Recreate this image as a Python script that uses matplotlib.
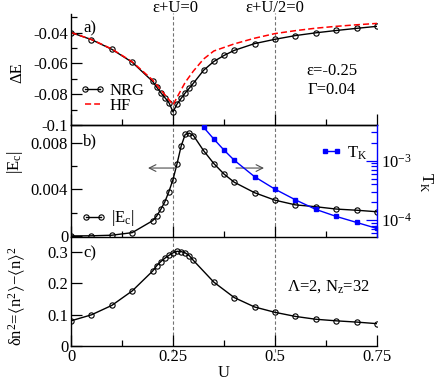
import matplotlib
matplotlib.use('Agg')
import matplotlib.pyplot as plt
from matplotlib.ticker import MultipleLocator, FuncFormatter, LogLocator, NullFormatter

plt.rcParams['font.family'] = ['Liberation Serif', 'DejaVu Sans']
plt.rcParams['mathtext.fontset'] = 'custom'
plt.rcParams['mathtext.rm'] = 'Liberation Serif'
plt.rcParams['mathtext.it'] = 'Liberation Serif:italic'
plt.rcParams['mathtext.fallback'] = 'stix'
plt.rcParams['axes.unicode_minus'] = False
plt.rcParams['font.size'] = 12

# ---------------- data ----------------
U_nrg = [0, 0.05, 0.1, 0.15, 0.2, 0.21, 0.22, 0.23, 0.24, 0.25, 0.26, 0.27, 0.28, 0.29, 0.3,
         0.325, 0.35, 0.375, 0.4, 0.45, 0.5, 0.55, 0.6, 0.65, 0.7, 0.75]
dE_nrg = [-0.0400, -0.0446, -0.0509, -0.0593, -0.0717, -0.0755, -0.0790, -0.0822, -0.0855, -0.0915,
          -0.0864, -0.0827, -0.0792, -0.0761, -0.0729, -0.0645, -0.0588, -0.0549, -0.0516, -0.0472,
          -0.0444, -0.0420, -0.0402, -0.0387, -0.0373, -0.0360]

U_hf = [0, 0.05, 0.1, 0.15, 0.2, 0.22, 0.24, 0.25, 0.26, 0.28, 0.3, 0.325, 0.35, 0.4, 0.45,
        0.5, 0.55, 0.6, 0.65, 0.7, 0.75]
dE_hf = [-0.0400, -0.0445, -0.0507, -0.0590, -0.0708, -0.0772, -0.0835, -0.0870, -0.0820, -0.0723,
         -0.0650, -0.0572, -0.0520, -0.0474, -0.0437, -0.0407, -0.0388, -0.0372, -0.0360, -0.0350,
         -0.0341]

U_ec = U_nrg
Ec = [0.0, 0.00001, 0.00006, 0.00028, 0.0013, 0.0017, 0.00227, 0.00292, 0.0038, 0.00483,
      0.0062, 0.0077, 0.0087, 0.0088, 0.0086, 0.0073, 0.0062, 0.0053, 0.0046, 0.0037,
      0.00306, 0.00266, 0.0025, 0.0023, 0.0022, 0.00207]

U_tk = [0.325, 0.35, 0.375, 0.4, 0.45, 0.5, 0.55, 0.6, 0.65, 0.7, 0.75]
TK = [3.66e-3, 2.32e-3, 1.51e-3, 1.02e-3, 5.37e-4, 3.31e-4, 2.19e-4, 1.51e-4, 1.15e-4,
      9.1e-5, 7.2e-5]

U_dn = [0, 0.05, 0.1, 0.15, 0.2, 0.21, 0.22, 0.23, 0.24, 0.25, 0.26, 0.27, 0.28, 0.29, 0.3,
        0.35, 0.4, 0.45, 0.5, 0.55, 0.6, 0.65, 0.7, 0.75]
dn2 = [0.080, 0.099, 0.129, 0.175, 0.238, 0.255, 0.268, 0.279, 0.288, 0.296, 0.301, 0.300,
       0.296, 0.287, 0.272, 0.203, 0.154, 0.124, 0.107, 0.094, 0.085, 0.080, 0.076, 0.071]

x_ticks_labels = ['0', '0.25', '0.5', '0.75']

# ---------------- figure ----------------
W, H = 436, 382
fig = plt.figure(figsize=(W / 100, H / 100), dpi=100)


def P(x, y):
    return x / W, 1 - y / H


L, AW = 71 / W, 306 / W
ax_a = fig.add_axes([L, 1 - 125 / H, AW, 111 / H])
ax_b = fig.add_axes([L, 1 - 236.5 / H, AW, 111.5 / H])
ax_c = fig.add_axes([L, 1 - 346 / H, AW, 109.5 / H])

fmt = FuncFormatter(lambda v, p: '%g' % round(v, 6))

for ax in (ax_a, ax_b, ax_c):
    ax.set_xlim(0, 0.75)
    ax.xaxis.set_major_locator(MultipleLocator(0.25))
    ax.xaxis.set_minor_locator(MultipleLocator(0.125))
    ax.tick_params(axis='both', which='both', direction='in', top=False, right=False,
                   width=0.9, pad=2)
    ax.tick_params(which='major', length=8)
    ax.tick_params(which='minor', length=4)
    ax.yaxis.set_major_formatter(fmt)
    ax.patch.set_alpha(0)
    for s in ax.spines.values():
        s.set_linewidth(1.0)
    ax.spines['right'].set_visible(False)

ax_a.spines['top'].set_visible(False)
ax_c.spines['top'].set_visible(False)
ax_a.tick_params(labelbottom=False)
ax_b.tick_params(labelbottom=False)
ax_c.xaxis.set_major_formatter(FuncFormatter(lambda v, p: x_ticks_labels[int(round(v / 0.25))]
                                             if 0 <= round(v / 0.25) < len(x_ticks_labels) else ''))

MS = 3.8
circ = dict(marker='o', ms=MS, mfc='none', mec='black', mew=0.8)

# panel a
l_nrg, = ax_a.plot(U_nrg, dE_nrg, color='black', lw=1.0, label='NRG', **circ)
l_hf, = ax_a.plot(U_hf, dE_hf, color='red', lw=1.1, dashes=(4, 2), label='HF')
ax_a.set_ylim(-0.1, -0.028)
ax_a.yaxis.set_major_locator(MultipleLocator(0.02))
ax_a.yaxis.set_minor_locator(MultipleLocator(0.01))
ax_a.legend(handles=[l_nrg, l_hf], loc='center left', bbox_to_anchor=P(80, 98.5),
            bbox_transform=fig.transFigure, numpoints=2, frameon=False, handlelength=1.5,
            handletextpad=0.25, borderpad=0, borderaxespad=0, labelspacing=-0.05)

# panel b
l_ec, = ax_b.plot(U_ec, Ec, color='black', lw=1.0, label='|E$_\\mathregular{c}$|', **circ)
ax_b.set_ylim(-0.00005, 0.0095)
ax_b.yaxis.set_major_locator(MultipleLocator(0.004))
ax_b.yaxis.set_minor_locator(MultipleLocator(0.002))
ax_b.legend(handles=[l_ec], loc='center left', bbox_to_anchor=P(81, 218.5),
            bbox_transform=fig.transFigure, numpoints=2, frameon=False, handlelength=1.5,
            handletextpad=0.3, borderpad=0, borderaxespad=0)

ax_t = ax_b.twinx()
ax_t.set_xlim(0, 0.75)
l_tk, = ax_t.plot(U_tk, TK, color='#0000ff', lw=1.0, marker='s', ms=3.4, mfc='#0000ff',
                  mec='#0000ff', label='T$_\\mathregular{K}$')
ax_t.set_yscale('log')
ax_t.set_ylim(10 ** -4.278, 10 ** -2.398)
ax_t.yaxis.set_major_locator(LogLocator(base=10, numticks=10))
ax_t.yaxis.set_minor_locator(LogLocator(base=10, subs=range(2, 10), numticks=10))
ax_t.yaxis.set_minor_formatter(NullFormatter())
ax_t.tick_params(axis='y', which='both', direction='in', colors='#0000ff', labelcolor='black',
                 width=0.9, pad=3)
ax_t.tick_params(axis='y', which='major', length=8)
ax_t.tick_params(axis='y', which='minor', length=4)
for k in ('left', 'top', 'bottom'):
    ax_t.spines[k].set_visible(False)
ax_t.spines['right'].set_color('#0000ff')
ax_t.spines['right'].set_linewidth(1.0)
ax_t.legend(handles=[l_tk], loc='center left', bbox_to_anchor=P(320, 153),
            bbox_transform=fig.transFigure, numpoints=2, frameon=False, handlelength=1.3,
            handletextpad=0.3, borderpad=0, borderaxespad=0)

# arrows in panel b
arr = dict(arrowstyle='->', color='0.3', lw=0.8, shrinkA=0, shrinkB=0)
ax_b.annotate('', xy=((148 - 71) / 306, 0.614), xytext=((176 - 71) / 306, 0.614),
              xycoords='axes fraction', arrowprops=arr)
ax_b.annotate('', xy=((264 - 71) / 306, 0.614), xytext=((236 - 71) / 306, 0.614),
              xycoords='axes fraction', arrowprops=arr)

# panel c
ax_c.plot(U_dn, dn2, color='black', lw=1.0, **circ)
ax_c.set_ylim(0, 0.348)
ax_c.yaxis.set_major_locator(MultipleLocator(0.1))

# dashed vertical guide lines
for xv in (0.25, 0.5):
    kw = dict(color='0.45', lw=0.8, dashes=(3, 2), zorder=0.5)
    ax_a.axvline(xv, ymin=0, ymax=1.01, clip_on=False, **kw)
    ax_b.axvline(xv, **kw)
    ax_c.axvline(xv, ymin=-0.055, ymax=1, clip_on=False, **kw)

# texts
fig.text(*P(175, 8), 'ε+U=0', ha='center', va='center')
fig.text(*P(275, 8), 'ε+U/2=0', ha='center', va='center')
fig.text(*P(332, 71), 'ε=-0.25', ha='center', va='center')
fig.text(*P(332, 90), 'Γ=0.04', ha='center', va='center')
fig.text(*P(90, 28), 'a)', ha='center', va='center')
fig.text(*P(90, 141), 'b)', ha='center', va='center')
fig.text(*P(90, 253), 'c)', ha='center', va='center')
fig.text(*P(328, 287), 'Λ=2, N$_\\mathregular{z}$=32', ha='center', va='center')
fig.text(*P(224, 373), 'U', ha='center', va='center')
fig.text(*P(17, 73), 'ΔE', ha='center', va='center', rotation=90)
fig.text(*P(15, 162), '|E$_\\mathregular{c}$|', ha='center', va='center', rotation=90)
fig.text(*P(17, 296),
         r'$\mathregular{\delta n^2\!=\!\langle n^2\rangle\!-\!\langle n\rangle^2}$',
         ha='center', va='center', rotation=90)
fig.text(*P(426, 182), 'T$_\\mathregular{K}$', ha='center', va='center', rotation=270)

fig.savefig('out.png', dpi=100)
